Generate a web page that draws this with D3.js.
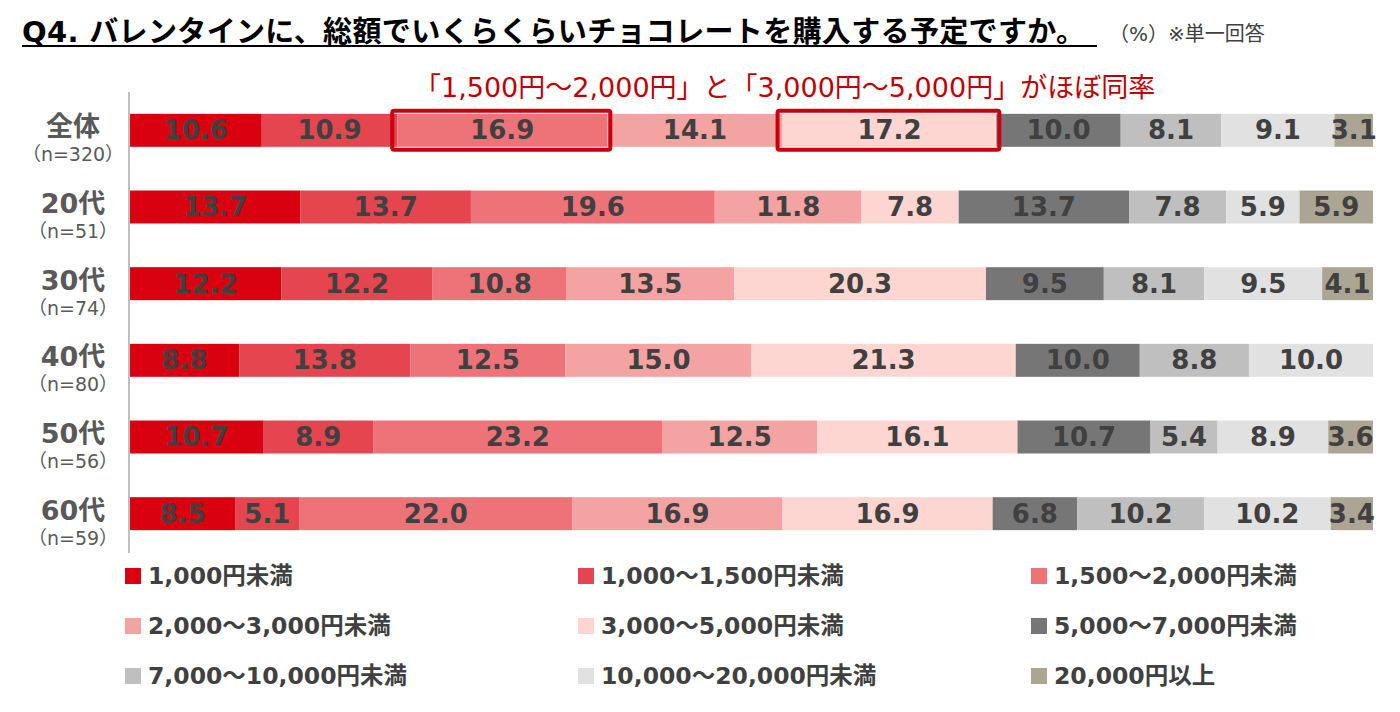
<!DOCTYPE html>
<html>
<head>
    <meta charset="utf-8" />
    <title>Q4 バレンタイン</title>
    <style>
        body{
            margin: 0;
            overflow: hidden;
            background: #fff;
        }
        text{
            font-family: "DejaVu Sans", "Noto Sans CJK JP", sans-serif;
        }
    </style>
</head>
<body>
    <div id="chart"></div>
    <script src="https://d3js.org/d3.v7.min.js"></script>
    <script>
        // rows (groups) and their sample sizes
        var rowLabels = ["全体", "20代", "30代", "40代", "50代", "60代"];
        var rowN = ["（n=320）", "（n=51）", "（n=74）", "（n=80）", "（n=56）", "（n=59）"];

        // price bands (stack order)
        var seriesNames = [
            "1,000円未満", "1,000～1,500円未満", "1,500～2,000円未満",
            "2,000～3,000円未満", "3,000～5,000円未満", "5,000～7,000円未満",
            "7,000～10,000円未満", "10,000～20,000円未満", "20,000円以上"
        ];
        var seriesColors = ["#D9000F", "#E5454F", "#EE7378", "#F4A3A3", "#FDD6D2",
            "#767676", "#BFBFBF", "#E1E1E1", "#ADA593"];

        // percentages, one array per row
        var vTotal = [10.6, 10.9, 16.9, 14.1, 17.2, 10.0, 8.1, 9.1, 3.1];
        var v20 = [13.7, 13.7, 19.6, 11.8, 7.8, 13.7, 7.8, 5.9, 5.9];
        var v30 = [12.2, 12.2, 10.8, 13.5, 20.3, 9.5, 8.1, 9.5, 4.1];
        var v40 = [8.8, 13.8, 12.5, 15.0, 21.3, 10.0, 8.8, 10.0, 0];
        var v50 = [10.7, 8.9, 23.2, 12.5, 16.1, 10.7, 5.4, 8.9, 3.6];
        var v60 = [8.5, 5.1, 22.0, 16.9, 16.9, 6.8, 10.2, 10.2, 3.4];
        var values = [vTotal, v20, v30, v40, v50, v60];

        // highlighted segments in the 全体 row (series index)
        var highlight = [2, 4];

        var titleText = "Q4. バレンタインに、総額でいくらくらいチョコレートを購入する予定ですか。";
        var noteText = "（%）※単一回答";
        var calloutText = "「1,500円～2,000円」と「3,000円～5,000円」がほぼ同率";

        var width = 1400, height = 712;
        var svg = d3.select("#chart").append("svg")
            .attr("width", width)
            .attr("height", height);

        // title + underline
        var tw = 1063;
        svg.append("text")
            .attr("x", 22).attr("y", 42)
            .attr("font-size", 29)
            .attr("font-weight", "bold")
            .attr("fill", "#000")
            .attr("textLength", tw)
            .attr("lengthAdjust", "spacing")
            .text(titleText);
        svg.append("line")
            .attr("x1", 22).attr("x2", 22 + tw + 12)
            .attr("y1", 46).attr("y2", 46)
            .attr("stroke", "#000").attr("stroke-width", 2);
        svg.append("text")
            .attr("x", 22 + tw + 24).attr("y", 41)
            .attr("font-size", 20)
            .attr("fill", "#404040")
            .text(noteText);

        // scales
        var x = d3.scaleLinear().domain([0, 1]).range([130, 1373]);
        var y = d3.scaleBand().domain(d3.range(rowLabels.length))
            .range([92, 552]).paddingInner(0.57).paddingOuter(0.285);

        // stacked, normalised rows
        var rows = values.map(function (vals, r) {
            var sum = d3.sum(vals), acc = 0;
            return vals.map(function (v, i) {
                var seg = { row: r, series: i, value: v, x0: acc / sum, x1: (acc + v) / sum };
                acc += v;
                return seg;
            });
        });

        var rowG = svg.selectAll("g.row")
            .data(rows)
            .join("g")
            .attr("class", "row")
            .attr("transform", (d, i) => `translate(0,${y(i)})`);

        rowG.selectAll("rect")
            .data(d => d.filter(s => s.value > 0))
            .join("rect")
            .attr("x", d => x(d.x0))
            .attr("width", d => x(d.x1) - x(d.x0))
            .attr("height", y.bandwidth())
            .attr("fill", d => seriesColors[d.series]);

        rowG.selectAll("text.val")
            .data(d => d.filter(s => s.value > 0))
            .join("text")
            .attr("class", "val")
            .attr("x", d => (x(d.x0) + x(d.x1)) / 2)
            .attr("y", y.bandwidth() / 2 + 9)
            .attr("text-anchor", "middle")
            .attr("font-size", 26)
            .attr("font-weight", "bold")
            .attr("fill", "#404040")
            .text(d => d3.format(".1f")(d.value));

        // axis line
        svg.append("line")
            .attr("x1", 129).attr("x2", 129)
            .attr("y1", 92).attr("y2", 553)
            .attr("stroke", "#BFBFBF").attr("stroke-width", 2);

        // row labels
        var labG = svg.selectAll("g.lab")
            .data(rowLabels)
            .join("g")
            .attr("class", "lab")
            .attr("transform", (d, i) => `translate(73,${y(i) + y.bandwidth() / 2})`);
        labG.append("text")
            .attr("text-anchor", "middle")
            .attr("y", 6)
            .attr("font-size", 27)
            .attr("font-weight", "bold")
            .attr("fill", "#595959")
            .text(d => d);
        labG.append("text")
            .attr("text-anchor", "middle")
            .attr("y", 31)
            .attr("font-size", 19)
            .attr("fill", "#595959")
            .text((d, i) => rowN[i]);

        // highlight boxes + callout
        var hl = rows[0].filter(s => highlight.indexOf(s.series) >= 0);
        svg.selectAll("rect.hl")
            .data(hl)
            .join("rect")
            .attr("class", "hl")
            .attr("x", d => x(d.x0) - 5)
            .attr("width", d => x(d.x1) - x(d.x0) + 8)
            .attr("y", y(0) - 3)
            .attr("height", y.bandwidth() + 6)
            .attr("rx", 2)
            .attr("fill", "none")
            .attr("stroke", "#C8000E")
            .attr("stroke-width", 4);
        svg.append("text")
            .attr("x", x(hl[1].x0) + 2)
            .attr("y", 97)
            .attr("text-anchor", "middle")
            .attr("font-size", 27)
            .attr("fill", "#C00000")
            .text(calloutText);

        // legend
        var legX = d3.scaleBand().domain([0, 1, 2]).range([125, 1484]);
        var legend = svg.selectAll("g.leg")
            .data(seriesNames)
            .join("g")
            .attr("class", "leg")
            .attr("transform", (d, i) => `translate(${legX(i % 3)},${576 + Math.floor(i / 3) * 50})`);
        legend.append("rect")
            .attr("x", 0).attr("y", -8)
            .attr("width", 16).attr("height", 16)
            .attr("fill", (d, i) => seriesColors[i]);
        legend.append("text")
            .attr("x", 23).attr("y", 8)
            .attr("font-size", 23.5)
            .attr("font-weight", "bold")
            .attr("fill", "#404040")
            .text(d => d);
    </script>
</body>
</html>
